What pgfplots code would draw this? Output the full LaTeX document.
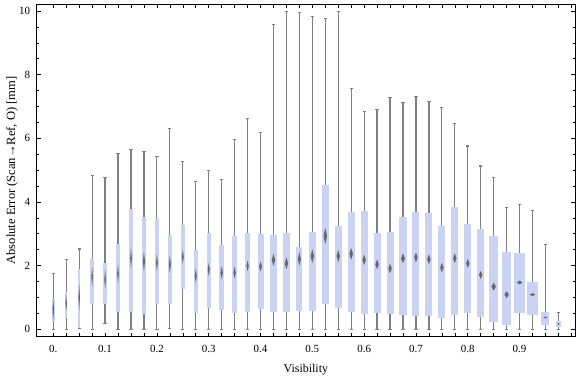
\documentclass[border=0pt]{standalone}
\usepackage{fontspec}
\setmainfont{Liberation Serif}
\usepackage{pgfplots}
\pgfplotsset{compat=1.18}
\usepgfplotslibrary{statistics}
\definecolor{boxcol}{RGB}{203,211,245}
\definecolor{whiskcol}{RGB}{128,128,128}
\definecolor{medcol}{RGB}{105,105,105}

% #1 x, #2 lower whisker, #3 Q1, #4 median, #5 Q3, #6 upper whisker, #7 box width (px), #8 diamond half height (px)
\newcommand\bw[8]{%
 \pgfmathsetmacro\bext{#7*0.001931}%
 \pgfmathsetmacro\dw{max(#7*0.25,0.8)*0.001931}%
 \pgfmathsetmacro\dh{#8*0.03142}%
 \pgfmathsetmacro\dl{#1-\dw}%
 \pgfmathsetmacro\dr{#1+\dw}%
 \pgfmathsetmacro\dt{#4+\dh}%
 \pgfmathsetmacro\db{#4-\dh}%
 \edef\tmp{\noexpand\addplot[draw=whiskcol, line width=1.2bp, fill=boxcol,
   boxplot prepared={draw direction=y, draw position=#1, lower whisker=#2, lower quartile=#3,
   median=#4, upper quartile=#5, upper whisker=#6, box extend=\bext,
   whisker extend=0.0062}] coordinates {};
  \noexpand\addplot[fill=medcol, draw=none] coordinates {(\dl,#4) (#1,\dt) (\dr,#4) (#1,\db)} --cycle;}%
 \tmp
}

\begin{document}
\begin{tikzpicture}
\useasboundingbox (-36.7bp,-40.3bp) rectangle (539.3bp,336.7bp);
\begin{axis}[
 scale only axis, width=538.3bp, height=332.4bp,
 xmin=-0.032, xmax=1.007, ymin=-0.233, ymax=10.21,
 axis line style={line width=0.8bp},
 xtick={0,0.025,0.05,0.075,0.1,0.125,0.15,0.175,0.2,0.225,0.25,0.275,0.3,0.325,0.35,0.375,0.4,0.425,0.45,0.475,0.5,0.525,0.55,0.575,0.6,0.625,0.65,0.675,0.7,0.725,0.75,0.775,0.8,0.825,0.85,0.875,0.9,0.925,0.95,0.975,1.0},
 xticklabels={0.,,,,0.1,,,,0.2,,,,0.3,,,,0.4,,,,0.5,,,,0.6,,,,0.7,,,,0.8,,,,0.9,,,,},
 ytick={0,2,4,6,8,10}, minor y tick num=3,
 tick align=inside, major tick length=4bp, minor tick length=2.4bp,
 tick style={black, line width=0.6bp},
 /pgf/number format/assume math mode=true,
 ticklabel style={font=\fontsize{11}{13}\selectfont},
 xticklabel style={anchor=base, yshift=-15.8bp},
 yticklabel style={xshift=-3bp},
 xlabel={Visibility}, ylabel={Absolute Error (Scan→Ref, O) [mm]},
 every axis x label/.style={at={(axis description cs:0.5,0)}, anchor=base, yshift=-35.6bp, font=\fontsize{12}{14}\selectfont},
 every axis y label/.style={at={([xshift=-21.5bp]axis description cs:0,0.5)}, rotate=90, anchor=base, font=\fontsize{12.6}{14}\selectfont},
 boxplot/every box/.style={draw=none, fill=boxcol},
 boxplot/every whisker/.style={draw=whiskcol, line width=1.2bp},
 boxplot/every median/.style={draw=none},
]
\bw{0.000}{0}{0.24}{0.61}{0.94}{1.76}{2.7}{10}
\bw{0.025}{0}{0.37}{0.82}{1.16}{2.18}{2}{8}
\bw{0.050}{0.03}{0.03}{1.0}{1.9}{2.52}{2}{13}
\bw{0.075}{0}{0.79}{1.65}{2.2}{4.82}{3.3}{10}
\bw{0.100}{0.19}{0.79}{1.57}{2.09}{4.77}{3.3}{10}
\bw{0.125}{0}{0.53}{1.74}{2.68}{5.53}{3.3}{10}
\bw{0.150}{0}{0.55}{2.23}{3.78}{5.65}{3.3}{11}
\bw{0.175}{0}{0.47}{2.13}{3.52}{5.59}{4.3}{10}
\bw{0.200}{0}{0.79}{2.09}{3.47}{5.43}{3.7}{9}
\bw{0.225}{0.03}{0.79}{2.04}{2.96}{6.32}{4}{9}
\bw{0.250}{0}{1.26}{2.28}{3.28}{5.28}{4}{7}
\bw{0.275}{0}{0.5}{1.68}{2.49}{4.65}{4.3}{7}
\bw{0.300}{0}{0.68}{1.88}{3.03}{4.99}{4.3}{6.5}
\bw{0.325}{0}{0.62}{1.78}{2.65}{4.71}{5}{6.5}
\bw{0.350}{0}{0.5}{1.78}{2.93}{5.97}{5}{6}
\bw{0.375}{0}{0.55}{1.99}{3.03}{6.61}{5}{5.5}
\bw{0.400}{0}{0.65}{1.97}{2.99}{6.19}{6}{5}
\bw{0.425}{0}{0.55}{2.18}{2.96}{9.58}{7}{6}
\bw{0.450}{0}{0.55}{2.07}{3.03}{9.99}{7}{6}
\bw{0.475}{0}{0.59}{2.21}{2.59}{9.96}{6}{7}
\bw{0.500}{0}{0.59}{2.30}{3.06}{9.83}{7}{7}
\bw{0.525}{0}{0.81}{2.93}{4.53}{9.77}{7}{8.5}
\bw{0.550}{0}{0.68}{2.30}{3.25}{9.99}{7}{6}
\bw{0.575}{0}{0.55}{2.37}{3.69}{7.57}{7.3}{6}
\bw{0.600}{0}{0.49}{2.18}{3.72}{6.85}{7}{5.5}
\bw{0.625}{0}{0.52}{2.04}{3.03}{6.91}{7}{5}
\bw{0.650}{0}{0.49}{1.91}{3.06}{7.29}{7}{5}
\bw{0.675}{0}{0.46}{2.23}{3.53}{7.13}{8}{5}
\bw{0.700}{0}{0.43}{2.26}{3.69}{7.31}{7}{5}
\bw{0.725}{0}{0.43}{2.20}{3.65}{7.16}{7}{5}
\bw{0.750}{0}{0.37}{1.94}{3.25}{6.97}{7}{5}
\bw{0.775}{0}{0.46}{2.23}{3.84}{6.47}{7}{5}
\bw{0.800}{0}{0.52}{2.07}{3.31}{5.76}{7}{4.5}
\bw{0.825}{0}{0.40}{1.71}{3.15}{5.13}{7}{4}
\bw{0.850}{0}{0.24}{1.34}{2.93}{4.77}{9}{4}
\bw{0.875}{0}{0.13}{1.09}{2.43}{3.83}{9}{3.5}
\bw{0.900}{0}{0.50}{1.47}{2.40}{3.93}{11}{2}
\bw{0.925}{0}{0.44}{1.09}{1.49}{3.74}{11}{1.5}
\bw{0.950}{0}{0.15}{0.37}{0.54}{2.67}{8}{1}
\bw{0.975}{0}{0.06}{0.17}{0.25}{0.53}{5}{1}
\end{axis}
\end{tikzpicture}
\end{document}
